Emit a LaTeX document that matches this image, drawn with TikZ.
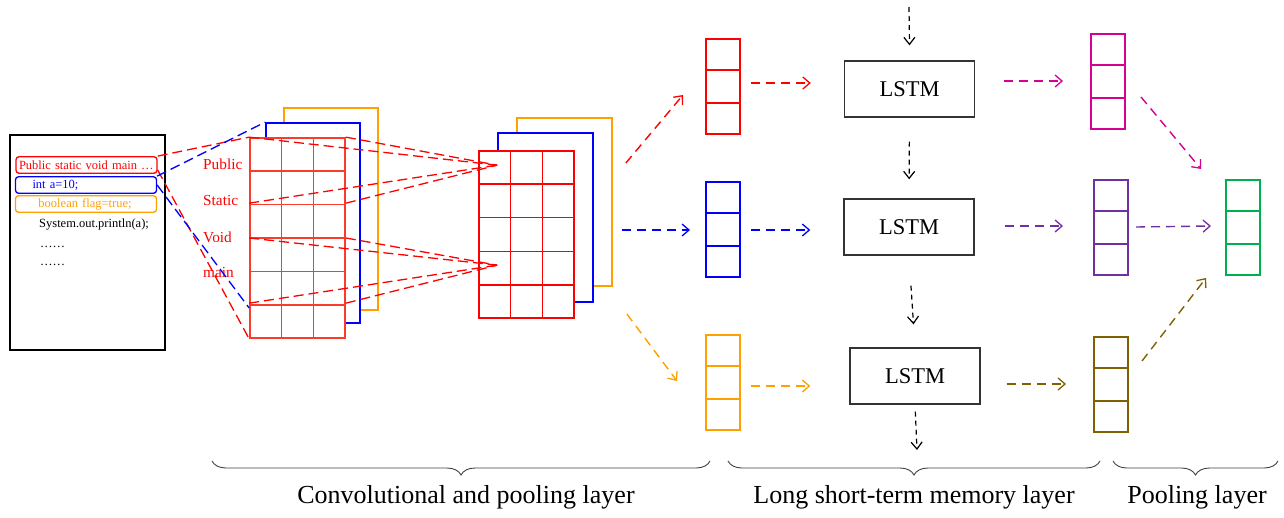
\documentclass[tikz,border=0pt]{standalone}
\usepackage{fontspec}
\setmainfont{Liberation Serif}
\usetikzlibrary{arrows.meta,decorations.pathreplacing,calc}
\definecolor{cred}{RGB}{255,0,0}
\definecolor{gridred}{RGB}{250,60,45}
\definecolor{cblue}{RGB}{0,0,255}
\definecolor{corange}{RGB}{255,160,0}
\definecolor{cmag}{RGB}{214,0,147}
\definecolor{cpurple}{RGB}{112,48,160}
\definecolor{cbrown}{RGB}{128,96,0}
\definecolor{cgreen}{RGB}{0,176,80}
\newcommand\mkvec[4]{%
  \node[vecbox,draw=#2] (#1) at (#3,#4) {};
  \draw[#2,line width=1.9pt] ($(#1.north west)!1/3!(#1.south west)$) -- ($(#1.north east)!1/3!(#1.south east)$);
  \draw[#2,line width=1.9pt] ($(#1.north west)!2/3!(#1.south west)$) -- ($(#1.north east)!2/3!(#1.south east)$);
}
\begin{document}
\begin{tikzpicture}[x=1pt,y=-1pt,
  rbox/.style={rectangle,draw,fill=white,inner sep=0pt,line width=1.7pt},
  vecbox/.style={rectangle,inner sep=0pt,line width=2pt,minimum width=34pt,minimum height=95pt},
  lstm/.style={rectangle,draw=black!80,line width=1.4pt,inner sep=0pt,minimum width=130pt,minimum height=56pt,font=\fontsize{22.5}{24}\selectfont},
  codeline/.style={rectangle,rounded corners=3pt,line width=1.3pt,inner ysep=0pt,inner xsep=3pt,text width=135pt,minimum height=16.5pt,align=left,font=\fontsize{12.5}{14}\selectfont},
  codetxt/.style={anchor=base west,inner sep=0pt,font=\fontsize{12.5}{14}\selectfont},
  wordlbl/.style={anchor=base west,inner sep=0pt,text=cred,font=\fontsize{15.3}{17}\selectfont},
  proj/.style={dash pattern=on 10pt off 5pt,line width=1.3pt},
  arr/.style={dash pattern=on 9pt off 6pt,line width=1.4pt,-{Straight Barb[length=7pt,width=12pt,line width=1.3pt]}},
  varr/.style={black,dash pattern=on 5pt off 4pt,line width=1.2pt,-{Straight Barb[length=7pt,width=11pt,line width=1.2pt]}},
  brc/.style={draw=black!75,line width=0.9pt,decorate,decoration={brace,mirror,amplitude=14pt}},
  lay/.style={font=\fontsize{26}{28}\selectfont}
]
\useasboundingbox (0,0) rectangle (1284,517);

% code box
\node[rbox,line width=1.4pt,minimum width=155pt,minimum height=215pt] (code) at (87.5,242.5) {};
\node[codeline,draw=cred,text=cred] (cr) at (86.5,165) {Public static void main \ldots};
\node[codeline,draw=cblue,text=cblue] (cbx) at (86,185) {\hspace*{14pt}int a=10;};
\node[codeline,draw=corange,text=corange] (cor) at (86,204) {\hspace*{20pt}boolean flag=true;};
\node[codetxt] (sys) at (39,227) {System.out.println(a);};
\node[codetxt] (d1) at (40,247) {\ldots\ldots};
\node[codetxt] (d2) at (40,265) {\ldots\ldots};

% first conv stack
\node[rbox,draw=corange,minimum width=94pt,minimum height=202pt] (s1o) at (331,209) {};
\node[rbox,draw=cblue,minimum width=94pt,minimum height=200pt] (s1b) at (313,223) {};
\node[rbox,draw=gridred,minimum width=95pt,minimum height=200pt] (g1) at (297.5,238) {};
\foreach \f in {1,2}
  \draw[gridred,line width=1.5pt] ($(g1.north west)!\f/3!(g1.north east)$) -- ($(g1.south west)!\f/3!(g1.south east)$);
\foreach \f in {1,...,5}
  \draw[gridred,line width=1.5pt] ($(g1.north west)!\f/6!(g1.south west)$) -- ($(g1.north east)!\f/6!(g1.south east)$);

\node[wordlbl] (wp) at (203,169) {Public};
\node[wordlbl] (ws) at (203,205) {Static};
\node[wordlbl] (wv) at (203,242) {Void};
\node[wordlbl] (wm) at (203,277) {main};

% second conv stack
\node[rbox,draw=corange,minimum width=95pt,minimum height=168pt] (s2o) at (564.5,202) {};
\node[rbox,draw=cblue,minimum width=95pt,minimum height=169pt] (s2b) at (545.5,217.5) {};
\node[rbox,draw=cred,minimum width=95pt,minimum height=167pt] (g2) at (526.5,234.5) {};
\foreach \f in {1,2}
  \draw[cred,line width=1.5pt] ($(g2.north west)!\f/3!(g2.north east)$) -- ($(g2.south west)!\f/3!(g2.south east)$);
\foreach \f in {1,...,4}
  \draw[cred,line width=1.5pt] ($(g2.north west)!\f/5!(g2.south west)$) -- ($(g2.north east)!\f/5!(g2.south east)$);

% projections from code to first stack
\draw[proj,cred] (cr.north east) -- (g1.north west);
\draw[proj,cred] ($(cr.south east)+(0,-4)$) -- (g1.south west);
\draw[proj,cblue] (cbx.north east) -- (s1b.north west);
\draw[proj,cblue] (cbx.east) -- ($(g1.west)+(0,70)$);

% projections from first to second stack
\coordinate (A) at ($(g2.north west)+(19,15)$);
\coordinate (B) at ($(g2.north west)+(19,115)$);
\draw[proj,cred] (g1.north west) -- (A);
\draw[proj,cred] (g1.north east) -- (A);
\draw[proj,cred] ($(g1.north west)+(0,66)$) -- (A);
\draw[proj,cred] ($(g1.north east)+(0,66)$) -- (A);
\draw[proj,cred] (g1.west) -- (B);
\draw[proj,cred] (g1.east) -- (B);
\draw[proj,cred] ($(g1.north west)+(0,166)$) -- (B);
\draw[proj,cred] ($(g1.north east)+(0,166)$) -- (B);

% vectors
\mkvec{vr}{cred}{723}{86.5}
\mkvec{vb}{cblue}{723}{229.5}
\mkvec{vo}{corange}{722.5}{382.5}
\mkvec{vm}{cmag}{1107.5}{81.5}
\mkvec{vp}{cpurple}{1110.5}{227.5}
\mkvec{vbr}{cbrown}{1110.5}{384.5}
\mkvec{vg}{cgreen}{1243}{227.5}

% LSTM
\node[lstm] (l1) at (909.5,89) {LSTM};
\node[lstm] (l2) at (909,227) {LSTM};
\node[lstm] (l3) at (915,376) {LSTM};

% arrows stack2 -> vectors
\draw[arr,cred] ($(s2o.east)+(13,-39)$) -- ($(vr.west)+(-22,8.5)$);
\draw[arr,cblue] ($(s2o.east)+(9,28)$) -- ($(vb.west)+(-15,0.5)$);
\draw[arr,corange] ($(s2o.east)+(14,112)$) -- ($(vo.west)+(-27.5,-1.5)$);

% vectors -> LSTM
\draw[arr,cred] ($(vr.east)+(10,-3.5)$) -- ($(l1.west)+(-33,-6)$);
\draw[arr,cblue] ($(vb.east)+(10,0.5)$) -- ($(l2.west)+(-33,3)$);
\draw[arr,corange] ($(vo.east)+(10.5,3.5)$) -- ($(l3.west)+(-39,10)$);

% LSTM chain
\coordinate (top) at (909,7);
\coordinate (bot) at (917,450);
\draw[varr] (top) -- ($(l1.north)+(0,-15)$);
\draw[varr,shorten <=24pt,shorten >=19pt] (l1.south) -- (l2.north);
\draw[varr,shorten <=30pt,shorten >=23pt] (l2.south) -- (l3.north);
\draw[varr,shorten <=7pt] (l3.south) -- (bot);

% LSTM -> pooled vectors
\draw[arr,cmag] ($(l1.east)+(29,-8)$) -- ($(vm.west)+(-26.5,-0.5)$);
\draw[arr,cpurple] ($(l2.east)+(30,-1)$) -- ($(vp.west)+(-29.5,-1.5)$);
\draw[arr,cbrown] ($(l3.east)+(26,8)$) -- ($(vbr.west)+(-26.5,-0.5)$);

% to green
\draw[arr,cmag] ($(vm.east)+(15.5,15.5)$) -- ($(vg.north west)+(-24,-10)$);
\draw[arr,cpurple] ($(vp.east)+(7.5,-0.5)$) -- ($(vg.west)+(-14,-1.5)$);
\draw[arr,cbrown] ($(vbr.north east)+(13.5,25)$) -- ($(vg.south west)+(-19,2)$);

% braces and labels
\coordinate (b1l) at (212,461); \coordinate (b1r) at (710,461);
\coordinate (b2l) at (728,461); \coordinate (b2r) at (1100,461);
\coordinate (b3l) at (1113,461); \coordinate (b3r) at (1278,461);
\draw[brc] (b1l) -- (b1r);
\draw[brc] (b2l) -- (b2r);
\draw[brc] (b3l) -- (b3r);
\node[lay] (t1) at (466,497) {Convolutional and pooling layer};
\node[lay] (t2) at (914,497) {Long short-term memory layer};
\node[lay] (t3) at (1197,497) {Pooling layer};
\end{tikzpicture}
\end{document}
